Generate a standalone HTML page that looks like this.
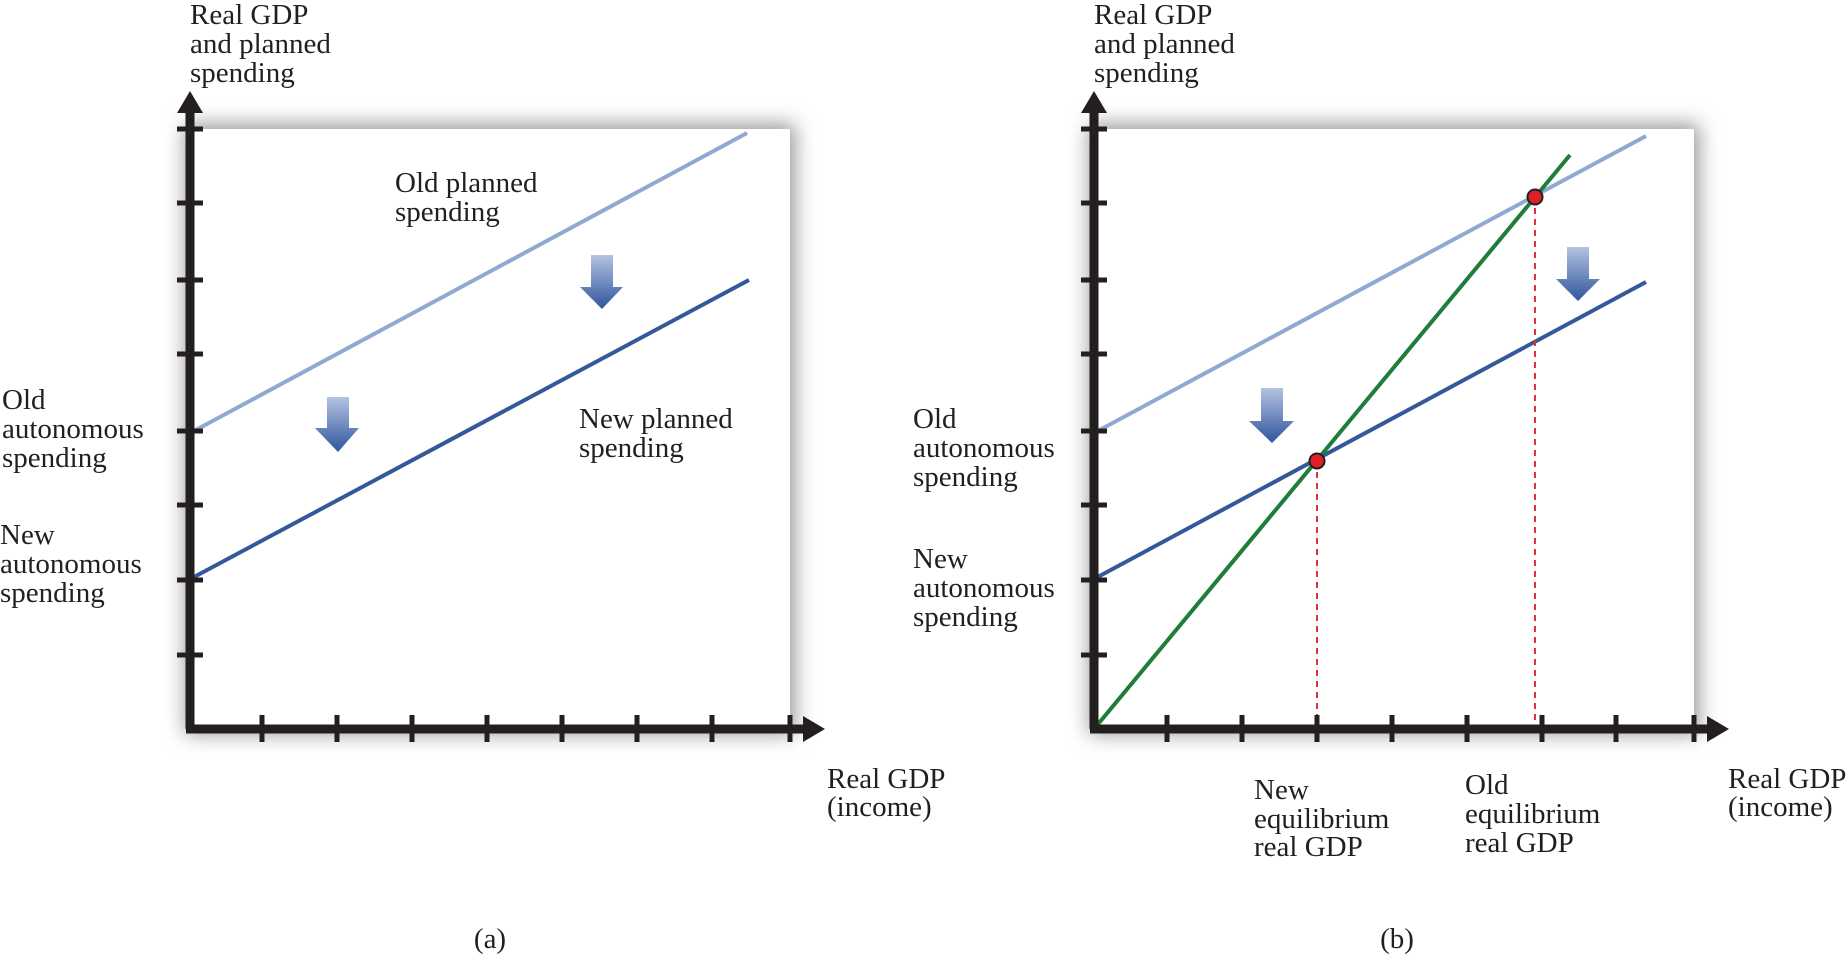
<!DOCTYPE html>
<html><head><meta charset="utf-8"><style>
html,body{margin:0;padding:0;background:#fff;}
svg{display:block;}
text{font-family:"Liberation Serif",serif;font-size:29px;fill:#231f20;}
</style></head><body>
<svg width="1846" height="958" viewBox="0 0 1846 958" xmlns="http://www.w3.org/2000/svg">
<defs>
<filter id="sh" x="-10%" y="-10%" width="120%" height="120%"><feGaussianBlur stdDeviation="10"/></filter>
<linearGradient id="ag" x1="0" y1="0" x2="0" y2="1">
<stop offset="0" stop-color="#b3c3e2"/><stop offset="1" stop-color="#2f559c"/></linearGradient>
</defs>

<!-- Panel A -->
<rect x="185" y="124" width="610" height="610" fill="#98989c" filter="url(#sh)"/>
<rect x="190" y="129" width="600" height="600" fill="#fff"/>
<line x1="194" y1="431" x2="747" y2="133" stroke="#90a9d3" stroke-width="4"/>
<line x1="194" y1="577" x2="749" y2="280" stroke="#34599a" stroke-width="4"/>
<polygon points="327,397 349,397 349,428 359,428 338,452 315,428 327,428" fill="url(#ag)"/>
<polygon points="591,255 613,255 613,287 623,287 602,309 580,287 591,287" fill="url(#ag)"/>
<g stroke="#231f20" stroke-width="5">
<line x1="177" y1="129" x2="203" y2="129"/><line x1="177" y1="203" x2="203" y2="203"/>
<line x1="177" y1="280" x2="203" y2="280"/><line x1="177" y1="354" x2="203" y2="354"/>
<line x1="177" y1="431" x2="203" y2="431"/><line x1="177" y1="505" x2="203" y2="505"/>
<line x1="177" y1="580" x2="203" y2="580"/><line x1="177" y1="655" x2="203" y2="655"/>
<line x1="262" y1="715" x2="262" y2="742"/><line x1="337" y1="715" x2="337" y2="742"/>
<line x1="412" y1="715" x2="412" y2="742"/><line x1="487" y1="715" x2="487" y2="742"/>
<line x1="562" y1="715" x2="562" y2="742"/><line x1="637" y1="715" x2="637" y2="742"/>
<line x1="712" y1="715" x2="712" y2="742"/><line x1="790" y1="715" x2="790" y2="742"/>
</g>
<line x1="190" y1="108" x2="190" y2="729" stroke="#231f20" stroke-width="9"/>
<line x1="186" y1="729" x2="806" y2="729" stroke="#231f20" stroke-width="9"/>
<polygon points="190,91 203,113 177,113" fill="#231f20"/>
<polygon points="825,729 803,716 803,742" fill="#231f20"/>
<text x="190" y="24">Real GDP</text><text x="190" y="53">and planned</text><text x="190" y="82">spending</text>
<text x="395" y="192">Old planned</text><text x="395" y="221">spending</text>
<text x="579" y="428">New planned</text><text x="579" y="457">spending</text>
<text x="2" y="409">Old</text><text x="2" y="438">autonomous</text><text x="2" y="467">spending</text>
<text x="0" y="544">New</text><text x="0" y="573">autonomous</text><text x="0" y="602">spending</text>
<text x="827" y="788">Real GDP</text><text x="827" y="816">(income)</text>
<text x="490" y="948" text-anchor="middle">(a)</text>

<!-- Panel B -->
<rect x="1089" y="124" width="610" height="610" fill="#98989c" filter="url(#sh)"/>
<rect x="1094" y="129" width="600" height="600" fill="#fff"/>
<line x1="1094" y1="433" x2="1646" y2="136" stroke="#90a9d3" stroke-width="4"/>
<line x1="1094" y1="579" x2="1646" y2="282" stroke="#34599a" stroke-width="4"/>
<line x1="1094" y1="729" x2="1570" y2="155" stroke="#1f7d3a" stroke-width="4"/>
<line x1="1317" y1="461" x2="1317" y2="729" stroke="#e0303a" stroke-width="2" stroke-dasharray="6,5"/>
<line x1="1535" y1="197" x2="1535" y2="729" stroke="#e0303a" stroke-width="2" stroke-dasharray="6,5"/>
<circle cx="1317" cy="461" r="7.5" fill="#e01f26" stroke="#231f20" stroke-width="2"/>
<circle cx="1535" cy="197" r="7.5" fill="#e01f26" stroke="#231f20" stroke-width="2"/>
<polygon points="1261,388 1283,388 1283,421 1294,421 1272,443 1249,421 1261,421" fill="url(#ag)"/>
<polygon points="1567,247 1589,247 1589,279 1600,279 1578,301 1556,279 1567,279" fill="url(#ag)"/>
<g stroke="#231f20" stroke-width="5">
<line x1="1081" y1="129" x2="1107" y2="129"/><line x1="1081" y1="203" x2="1107" y2="203"/>
<line x1="1081" y1="280" x2="1107" y2="280"/><line x1="1081" y1="354" x2="1107" y2="354"/>
<line x1="1081" y1="431" x2="1107" y2="431"/><line x1="1081" y1="505" x2="1107" y2="505"/>
<line x1="1081" y1="580" x2="1107" y2="580"/><line x1="1081" y1="655" x2="1107" y2="655"/>
<line x1="1167" y1="715" x2="1167" y2="742"/><line x1="1242" y1="715" x2="1242" y2="742"/>
<line x1="1317" y1="715" x2="1317" y2="742"/><line x1="1392" y1="715" x2="1392" y2="742"/>
<line x1="1467" y1="715" x2="1467" y2="742"/><line x1="1542" y1="715" x2="1542" y2="742"/>
<line x1="1616" y1="715" x2="1616" y2="742"/><line x1="1694" y1="715" x2="1694" y2="742"/>
</g>
<line x1="1094" y1="108" x2="1094" y2="729" stroke="#231f20" stroke-width="9"/>
<line x1="1090" y1="729" x2="1710" y2="729" stroke="#231f20" stroke-width="9"/>
<polygon points="1094,91 1107,113 1081,113" fill="#231f20"/>
<polygon points="1729,729 1707,716 1707,742" fill="#231f20"/>
<text x="1094" y="24">Real GDP</text><text x="1094" y="53">and planned</text><text x="1094" y="82">spending</text>
<text x="913" y="428">Old</text><text x="913" y="457">autonomous</text><text x="913" y="486">spending</text>
<text x="913" y="568">New</text><text x="913" y="597">autonomous</text><text x="913" y="626">spending</text>
<text x="1254" y="799">New</text><text x="1254" y="828">equilibrium</text><text x="1254" y="856">real GDP</text>
<text x="1465" y="794">Old</text><text x="1465" y="823">equilibrium</text><text x="1465" y="852">real GDP</text>
<text x="1728" y="788">Real GDP</text><text x="1728" y="816">(income)</text>
<text x="1397" y="948" text-anchor="middle">(b)</text>
</svg>
</body></html>
